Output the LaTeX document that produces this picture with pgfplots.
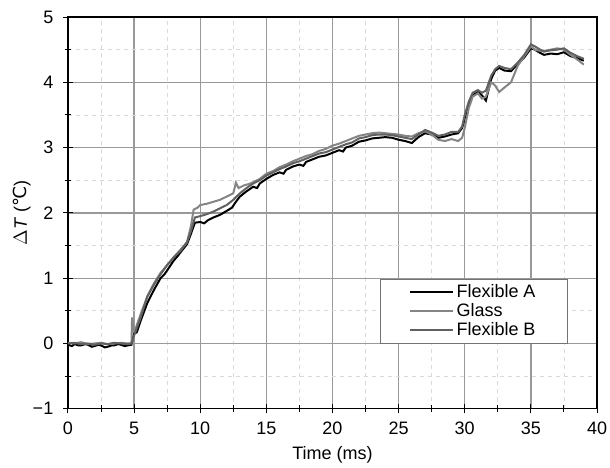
\documentclass[border=0pt]{standalone}
\usepackage{fontspec}
\setmainfont{Liberation Sans}
\newfontfamily\dejavu{DejaVu Sans}
\usepackage{pgfplots}
\pgfplotsset{compat=1.18}

\begin{document}
\begin{tikzpicture}
\begin{axis}[
    scale only axis,
    width=397pt, height=294pt,
    xmin=0, xmax=40, ymin=-1, ymax=5,
    xtick={0,5,...,40}, ytick={-1,0,...,5},
    yticklabels={−1,0,1,2,3,4,5},
    minor xtick={2.5,7.5,...,37.5}, minor ytick={-0.5,0.5,...,4.5},
    tick pos=left, tick align=center,
    major tick length=7pt, minor tick length=5pt,
    every tick/.style={black, line width=0.7pt},
    grid=both,
    major grid style={black!40, line width=1pt},
    minor grid style={gray!30, dashed, line width=0.6pt},
    axis line style={line width=0.9pt},
    tick label style={font=\fontsize{13.5}{16}\selectfont},
    xticklabel style={yshift=-3pt},
    yticklabel style={xshift=-4pt},
    /pgf/number format/assume math mode=true,
    xlabel={Time (ms)},
    ylabel={\(\Delta\)\textit{T} ({\dejavu ℃})},
    every axis x label/.style={at={(rel axis cs:0.5,0)}, yshift=-34.5pt, anchor=center,
        font=\fontsize{13.5}{16}\selectfont},
    every axis y label/.style={at={(rel axis cs:0,0.5)}, xshift=-34.5pt, rotate=90, anchor=center,
        font=\fontsize{13.5}{16}\selectfont},
    legend style={at={(axis cs:37.8,0)}, anchor=south east,
        font=\fontsize{13.5}{16}\selectfont, draw=black!55, line width=0.6pt,
        inner xsep=22pt, inner ysep=2pt, row sep=-1pt,
        /tikz/every even column/.append style={column sep=3pt}},
    legend cell align=left,
    legend image code/.code={\draw[#1, line width=1.5pt] (0pt,0pt) -- (32pt,0pt);},
]
\coordinate (ll) at (rel axis cs:0,0);
\coordinate (ur) at (rel axis cs:1,1);
% Flexible A
\addplot[black, line width=1.5pt] coordinates {
(0,-0.02) (0.3,-0.04) (0.5,-0.01) (0.8,-0.03) (1,-0.03) (1.3,-0.01) (1.5,-0.02) (1.8,-0.05)
(2,-0.04) (2.3,-0.02) (2.5,-0.03) (2.8,-0.06) (3,-0.05) (3.3,-0.03) (3.5,-0.03) (3.8,-0.01)
(4,-0.02) (4.3,-0.04) (4.5,-0.03) (4.8,-0.02) (4.9,0.08) (5.0,0.15) (5.2,0.17) (5.5,0.35) (6,0.62)
(6.5,0.82) (7,1.0) (7.3,1.06) (7.6,1.15) (8,1.27) (8.3,1.34) (8.6,1.42) (9,1.52)
(9.3,1.68) (9.6,1.85) (10,1.86) (10.3,1.84) (10.6,1.89) (11,1.93) (11.5,1.97) (12,2.03)
(12.4,2.08) (12.7,2.17) (13,2.25) (13.5,2.33) (14,2.40) (14.3,2.38) (14.5,2.45) (15,2.52) (15.5,2.58)
(16,2.62) (16.3,2.60) (16.5,2.66) (17,2.71) (17.5,2.74) (17.8,2.72) (18,2.78) (18.5,2.82) (19,2.86) (19.5,2.88)
(20,2.92) (20.5,2.96) (20.8,2.94) (21,3.0) (21.5,3.03) (22,3.09) (22.5,3.11) (23,3.14) (23.5,3.15)
(24,3.16) (24.5,3.15) (25,3.12) (25.5,3.10) (26,3.07) (26.5,3.16) (27,3.22) (27.5,3.20)
(28,3.15) (28.5,3.17) (29,3.20) (29.5,3.22) (29.8,3.30) (30,3.45) (30.3,3.65) (30.6,3.80)
(31,3.85) (31.3,3.80) (31.6,3.72) (32,4.05) (32.3,4.18) (32.6,4.22) (33,4.18) (33.5,4.17)
(34,4.28) (34.5,4.38) (35,4.52) (35.3,4.50) (35.7,4.45) (36,4.42) (36.5,4.44) (37,4.43)
(37.5,4.46) (38,4.40) (38.5,4.37) (39,4.33)
};
\addlegendentry{Flexible A}
% Glass
\addplot[black!48, line width=1.5pt] coordinates {
(0,0.01) (0.5,0.0) (1,0.02) (1.5,-0.01) (2,0.0) (2.5,0.01) (3,-0.01) (3.5,0.0)
(4,0.01) (4.5,0.0) (4.8,0.0) (4.85,0.4) (4.95,0.2) (5.1,0.22) (5.5,0.45) (6,0.72)
(6.5,0.92) (7,1.08) (7.5,1.2) (8,1.32) (8.5,1.42) (9,1.55) (9.3,1.8) (9.5,2.05)
(9.8,2.08) (10,2.12) (10.5,2.14) (11,2.17) (11.5,2.2) (12,2.25) (12.5,2.3) (12.7,2.46)
(12.9,2.38) (13.3,2.42) (13.8,2.45) (14.5,2.52) (15,2.6) (15.5,2.64) (16,2.7) (16.5,2.74)
(17,2.79) (17.5,2.83) (18,2.87) (18.5,2.9) (19,2.95) (19.5,2.98) (20,3.03) (20.5,3.06)
(21,3.1) (21.5,3.14) (22,3.18) (22.5,3.2) (23,3.22) (23.5,3.23) (24,3.22) (24.5,3.21)
(25,3.2) (25.5,3.18) (26,3.17) (26.5,3.22) (27,3.25) (27.5,3.2) (28,3.12) (28.5,3.1)
(29,3.13) (29.5,3.1) (29.8,3.15) (30,3.3) (30.3,3.6) (30.6,3.78) (31,3.83) (31.3,3.75)
(31.6,3.78) (32,4.0) (32.3,3.95) (32.6,3.85) (33,3.92) (33.5,4.0) (34,4.25) (34.5,4.4)
(35,4.55) (35.3,4.5) (35.7,4.48) (36,4.48) (36.5,4.5) (37,4.52) (37.5,4.5) (38,4.42)
(38.5,4.35) (39,4.27)
};
\addlegendentry{Glass}
% Flexible B
\addplot[black!62, line width=1.5pt] coordinates {
(0,0.0) (0.5,0.01) (1,-0.01) (1.5,0.0) (2,-0.02) (2.5,0.0) (3,-0.01) (3.5,0.01)
(4,0.0) (4.5,-0.01) (4.8,0.0) (5.0,0.12) (5.5,0.40) (6,0.72) (6.5,0.9) (7,1.06)
(7.5,1.2) (8,1.32) (8.5,1.43) (9,1.55) (9.3,1.72) (9.6,1.93) (10,1.95) (10.5,1.98)
(11,2.02) (11.5,2.07) (12,2.12) (12.5,2.2) (13,2.3) (13.5,2.38) (14,2.45) (14.5,2.5)
(15,2.57) (15.5,2.62) (16,2.67) (16.5,2.71) (17,2.76) (17.5,2.79) (18,2.83) (18.5,2.87)
(19,2.91) (19.5,2.93) (20,2.97) (20.5,3.01) (21,3.05) (21.5,3.08) (22,3.14) (22.5,3.16)
(23,3.19) (23.5,3.20) (24,3.20) (24.5,3.19) (25,3.17) (25.5,3.15) (26,3.13) (26.5,3.2)
(27,3.27) (27.5,3.23) (28,3.18) (28.5,3.2) (29,3.24) (29.5,3.24) (29.8,3.32) (30,3.5)
(30.3,3.7) (30.6,3.84) (31,3.88) (31.3,3.84) (31.6,3.87) (32,4.1) (32.3,4.2) (32.6,4.25)
(33,4.22) (33.5,4.2) (34,4.3) (34.5,4.42) (35,4.58) (35.3,4.55) (35.7,4.5) (36,4.47)
(36.5,4.49) (37,4.5) (37.5,4.52) (38,4.45) (38.5,4.4) (39,4.36)
};
\addlegendentry{Flexible B}
\end{axis}
\pgfresetboundingbox
\path ([shift={(-51pt,-44.25pt)}]ll) rectangle ([shift={(9.75pt,12.75pt)}]ur);
\end{tikzpicture}
\end{document}
